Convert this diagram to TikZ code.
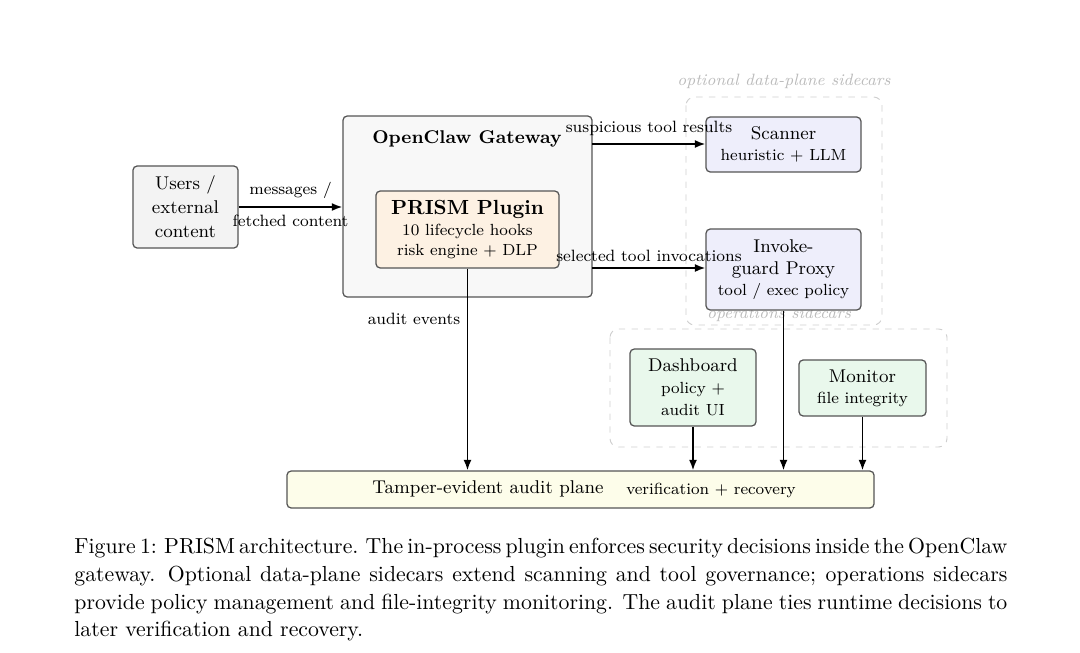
\documentclass[tikz,border=0pt]{standalone}
\usetikzlibrary{arrows.meta}
\definecolor{usersfill}{HTML}{F3F3F3}
\definecolor{gwfill}{HTML}{F8F8F8}
\definecolor{plugfill}{HTML}{FDF1E3}
\definecolor{sidefill}{HTML}{EEEEFB}
\definecolor{opsfill}{HTML}{E9F8EC}
\definecolor{auditfill}{HTML}{FDFDEA}
\definecolor{edgegray}{HTML}{555555}
\definecolor{grouplabel}{HTML}{BBBBBB}
\newcommand{\mainsz}{\fontsize{8.74}{10}\selectfont}
\newcommand{\subsz}{\fontsize{7.63}{9.4}\selectfont}
\newcommand{\labsz}{\fontsize{7.75}{9.4}\selectfont}
\newcommand{\capline}[1]{\hbox to 441.3pt{\spaceskip=0.333em plus 0.4em minus 0.17em \xspaceskip=0.5em plus 0.4em minus 0.2em #1}}
\begin{document}
\begin{tikzpicture}[x=0.473pt,y=-0.473pt,
  box/.style={draw=edgegray,rounded corners=2pt,line width=0.6pt,align=center,inner sep=0pt,font=\mainsz},
  grp/.style={draw=grouplabel!70,dashed,rounded corners=4pt,line width=0.45pt},
  grplab/.style={text=grouplabel,font=\labsz\itshape},
  arr/.style={-{Latex[length=5pt,width=3.8pt]},line width=0.8pt},
  lab/.style={font=\labsz,inner sep=1pt}]
\useasboundingbox (0,0) rectangle (1080,652);
% groups
\draw[grp] (686,97) rectangle (882,325);
\node[grplab] (dplab) at (784,81) {optional data-plane sidecars};
\draw[grp] (610,329) rectangle (947,447);
\node[grplab] (oplab) at (779,314) {operations sidecars};
% boxes
\node[box,fill=usersfill,minimum width=49.7pt,minimum height=38.8pt,font=\fontsize{8.74}{11.35}\selectfont] (users) at (185.5,207) {Users /\\external\\content};
\node[box,fill=gwfill,minimum width=117.8pt,minimum height=85.6pt] (gw) at (467.5,206.5) {};
\node[font=\mainsz\bfseries] (gwt) at (467,139) {OpenClaw Gateway};
\node[box,fill=plugfill,minimum width=86.6pt,minimum height=36.4pt] (plug) at (467.5,229.5) {{\fontsize{9.67}{10}\selectfont\bfseries PRISM Plugin}\\{\subsz 10 lifecycle hooks}\\[-0.4pt]{\subsz risk engine + DLP}};
\node[box,fill=sidefill,minimum width=73.3pt,minimum height=26pt] (scan) at (783.5,144.5) {Scanner\\{\subsz heuristic + LLM}};
\node[box,fill=sidefill,minimum width=73.3pt,minimum height=38.3pt] (inv) at (783.5,269.5) {Invoke-\\[0.4pt]guard Proxy\\{\subsz tool / exec policy}};
\node[box,fill=opsfill,minimum width=59.6pt,minimum height=36.4pt] (dash) at (693,387.5) {Dashboard\\[0.4pt]{\subsz policy +}\\[0.4pt]{\subsz audit UI}};
\node[box,fill=opsfill,minimum width=60.1pt,minimum height=26.5pt] (mon) at (862.5,388) {Monitor\\{\subsz file integrity}};
\node[box,fill=auditfill,minimum width=277.7pt,minimum height=17.5pt] (aud) at (580.5,489.5) {};
\node[font=\mainsz] (audt) at (488,489) {Tamper-evident audit plane};
\node[font=\subsz] (audv) at (711,490) {verification + recovery};
% arrows
\draw[arr] (users.east) -- (gw.west |- users.east);
\node[lab] (m1) at (290.5,190) {messages /};
\node[lab] (m2) at (290.5,221) {fetched content};
\coordinate (gwr1) at (592,144);
\coordinate (gwr2) at (592,268);
\draw[arr] (gwr1) -- (scan.west |- gwr1);
\node[lab] (l1) at (649,128) {suspicious tool results};
\draw[arr] (gwr2) -- (inv.west |- gwr2);
\node[lab] (l2) at (649,256) {selected tool invocations};
\draw[arr] (plug.south) -- (plug.south |- aud.north);
\node[lab] (ae) at (414,319) {audit events};
\draw[arr] (dash.south) -- (dash.south |- aud.north);
\draw[arr] (inv.south) -- (inv.south |- aud.north);
\draw[arr] (mon.south) -- (mon.south |- aud.north);
% caption
\node[anchor=north west,align=left,inner sep=0pt,font=\fontsize{10.3}{13.1}\selectfont] (cap) at (74,538) {\capline{Figure 1: PRISM architecture. The in-process plugin enforces security decisions inside the OpenClaw}\\\capline{gateway. Optional data-plane sidecars extend scanning and tool governance; operations sidecars}\\\capline{provide policy management and file-integrity monitoring. The audit plane ties runtime decisions to}\\later verification and recovery.};
\end{tikzpicture}
\end{document}
